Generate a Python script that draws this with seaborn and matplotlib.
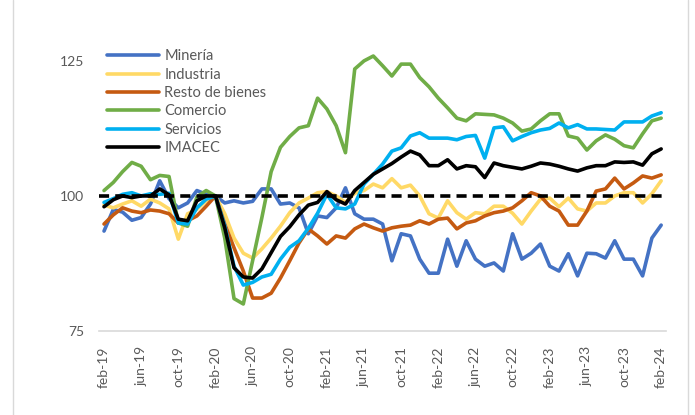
import pandas as pd
import matplotlib.pyplot as plt
import seaborn as sns
from matplotlib.lines import Line2D

# monthly index, feb-19 .. feb-24 (61 months), base feb-20 = 100
tick_labels = ["feb-19", "jun-19", "oct-19", "feb-20", "jun-20", "oct-20",
               "feb-21", "jun-21", "oct-21", "feb-22", "jun-22", "oct-22",
               "feb-23", "jun-23", "oct-23", "feb-24"]

mineria = [93.5, 97.5, 97.0, 95.5, 96.0, 98.5, 102.8, 99.5, 97.8, 98.7, 101.0, 100.3,
           100.0, 98.7, 99.1, 98.7, 99.0, 101.3, 101.3, 98.5, 98.7, 97.8, 93.0, 96.3,
           96.0, 97.8, 101.5, 96.7, 95.7, 95.7, 94.8, 88.0, 93.0, 92.6, 88.3, 85.7,
           85.7, 92.0, 87.0, 91.7, 88.3, 87.0, 87.6, 86.1, 93.0, 88.3, 89.4, 91.1,
           87.0, 86.1, 89.3, 85.2, 89.4, 89.3, 88.5, 91.7, 88.3, 88.3, 85.2, 92.2, 94.6]

industria = [98.3, 97.8, 98.5, 99.1, 98.1, 99.4, 98.7, 97.6, 92.0, 96.7, 97.5, 99.1,
             100.0, 96.7, 92.2, 89.4, 88.5, 90.2, 92.2, 94.4, 96.9, 98.7, 99.6, 100.6,
             100.8, 100.0, 98.8, 100.5, 101.0, 102.2, 101.5, 103.2, 101.5, 102.0, 100.0, 96.7,
             95.9, 99.1, 96.9, 95.7, 96.9, 96.7, 98.1, 98.1, 96.8, 94.8, 97.2, 99.4,
             99.6, 98.0, 99.6, 97.6, 97.2, 98.7, 98.7, 100.0, 100.6, 100.6, 98.7, 100.4, 102.8]

resto = [94.8, 96.5, 97.8, 97.2, 96.9, 97.4, 97.2, 96.7, 95.0, 95.4, 96.3, 98.1,
         100.0, 94.8, 90.4, 86.1, 81.1, 81.1, 82.0, 84.8, 88.0, 91.3, 93.9, 92.6,
         91.1, 92.6, 92.2, 93.9, 94.8, 94.1, 93.5, 94.1, 94.4, 94.6, 95.4, 94.8,
         95.7, 95.9, 93.9, 95.0, 95.4, 96.3, 96.9, 97.2, 97.8, 99.1, 100.6, 100.0,
         98.1, 97.2, 94.6, 94.6, 97.2, 100.9, 101.3, 103.3, 101.3, 102.4, 103.7, 103.3, 103.9]

comercio = [101.0, 102.5, 104.5, 106.2, 105.5, 103.0, 103.8, 103.6, 95.0, 94.4, 99.8, 101.0,
            100.0, 92.2, 81.0, 80.0, 88.0, 96.0, 104.5, 109.0, 111.0, 112.6, 113.0, 118.1,
            116.1, 113.0, 108.0, 123.5, 125.0, 125.9, 124.1, 122.2, 124.4, 124.4, 121.9, 120.2,
            118.1, 116.3, 114.4, 113.9, 115.2, 115.1, 115.0, 114.4, 113.5, 112.0, 112.4, 113.9,
            115.2, 115.2, 111.1, 110.7, 108.5, 110.2, 111.3, 110.5, 109.3, 108.9, 111.5, 113.9, 114.4]

servicios = [98.8, 99.5, 100.3, 100.6, 100.0, 100.4, 100.3, 100.5, 95.0, 94.8, 97.8, 99.4,
             100.0, 94.5, 87.0, 83.5, 84.0, 85.0, 85.5, 88.3, 90.5, 91.7, 94.0, 96.8,
             100.3, 97.8, 97.6, 98.5, 102.2, 104.0, 105.9, 108.3, 108.9, 111.1, 111.7, 110.7,
             110.7, 110.7, 110.4, 111.0, 111.2, 107.0, 112.6, 112.8, 110.2, 111.0, 111.7, 112.2,
             112.5, 113.5, 112.6, 113.2, 112.4, 112.4, 112.3, 112.2, 113.7, 113.7, 113.7, 114.8, 115.4]

imacec = [98.0, 99.3, 100.0, 99.7, 100.0, 100.0, 101.3, 100.2, 95.7, 95.4, 99.1, 100.0,
          100.0, 94.1, 86.7, 85.0, 84.8, 86.5, 89.5, 92.5, 94.3, 96.5, 98.3, 98.8,
          100.8, 99.3, 98.5, 101.0, 102.5, 104.0, 105.0, 106.0, 107.2, 108.3, 107.6, 105.6,
          105.6, 106.7, 105.0, 105.6, 105.4, 103.4, 106.1, 105.6, 105.3, 105.0, 105.5, 106.1,
          105.9, 105.5, 105.0, 104.6, 105.2, 105.6, 105.6, 106.3, 106.2, 106.3, 105.7, 107.8, 108.7]

series_names = ["Minería", "Industria", "Resto de bienes", "Comercio", "Servicios", "IMACEC"]
colors = ["#4472C4", "#FFD966", "#C55A11", "#70AD47", "#00B0F0", "#000000"]

df = pd.DataFrame({
    "mes": range(len(imacec)),
    "Minería": mineria,
    "Industria": industria,
    "Resto de bienes": resto,
    "Comercio": comercio,
    "Servicios": servicios,
    "IMACEC": imacec,
})
df = df.melt(id_vars="mes", var_name="serie", value_name="valor")

sns.set_style("white")
plt.rcParams['font.family'] = ['Lato', 'DejaVu Sans']

fig = plt.figure(figsize=(6.95, 4.15), dpi=100)
ax = fig.add_axes([0.143, 0.2024, 0.815, 0.716])

sns.lineplot(data=df, x="mes", y="valor", hue="serie", hue_order=series_names,
             palette=colors, linewidth=2.6, ax=ax)

ax.axhline(100, color="black", lw=2.6, ls=(0, (2.8, 1.7)), zorder=5)

ax.set_xlim(-0.5, 60.5)
ax.set_ylim(75, 130)
ax.set_yticks([75, 100, 125])
ax.set_xticks(range(0, 61, 4))
ax.set_xticklabels(tick_labels, rotation=90)
ax.tick_params(axis="both", length=0, labelsize=10, labelcolor="#595959")
ax.tick_params(axis="x", pad=11)
ax.tick_params(axis="y", pad=11)
ax.set_xlabel("")
ax.set_ylabel("")

for s in ["top", "right", "left"]:
    ax.spines[s].set_visible(False)
ax.spines["bottom"].set_color("#D9D9D9")
ax.spines["bottom"].set_linewidth(1.2)

ax.legend(loc="upper left", bbox_to_anchor=(0.013, 0.948), frameon=False,
          fontsize=10.5, labelcolor="#595959", handlelength=3.6,
          handletextpad=0.35, labelspacing=0.3, borderpad=0, borderaxespad=0)

# chart area border
fig.add_artist(Line2D([13 / 695, 13 / 695], [0, 1], color="#D9D9D9", lw=1))
fig.add_artist(Line2D([688 / 695, 688 / 695], [0, 1], color="#D9D9D9", lw=1))

fig.savefig("out.png", dpi=100)
